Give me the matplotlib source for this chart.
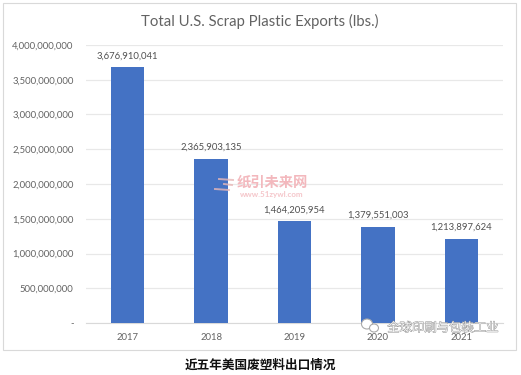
import matplotlib
matplotlib.use("Agg")
import matplotlib.pyplot as plt
import matplotlib.patheffects as pe
from matplotlib.lines import Line2D
from matplotlib.patches import Rectangle, Ellipse

# DATA
years = ["2017", "2018", "2019", "2020", "2021"]
exports = [3676910041, 2365903135, 1464205954, 1379551003, 1213897624]
y_ticks = [0, 500000000, 1000000000, 1500000000, 2000000000, 2500000000, 3000000000, 3500000000, 4000000000]
y_labels = ["-", "500,000,000", "1,000,000,000", "1,500,000,000", "2,000,000,000",
            "2,500,000,000", "3,000,000,000", "3,500,000,000", "4,000,000,000"]
title = "Total U.S. Scrap Plastic Exports (lbs.)"
caption = "近五年美国废塑料出口情况"
mark_cn = "纸引未来网"
mark_url = "www.51zywl.com"
mark_wechat = "全球印刷与包装工业"

W, H = 521, 375
plt.rcParams["font.family"] = ["Lato", "DejaVu Sans"]
cjk = ["Noto Sans CJK SC", "DejaVu Sans"]
grey = "#636363"

fig = plt.figure(figsize=(W / 100, H / 100), dpi=100)

# chart border
fig.add_artist(Rectangle((3 / W, 1 - 350 / H), 513 / W, 347 / H, transform=fig.transFigure,
                         facecolor="white", edgecolor="#d9d9d9", linewidth=0.8, zorder=-1))

ax = fig.add_axes([86 / W, 1 - 323 / H, 417 / W, 278 / H], zorder=2)
ax.patch.set_alpha(0)
xs = range(len(years))
ax.bar(xs, exports, width=0.4, color="#4472c4", zorder=3)
ax.set_xlim(-0.5, 4.5)
ax.set_ylim(0, 4000000000)
ax.set_xticks(list(xs), labels=years)
ax.set_yticks(y_ticks, labels=y_labels)
ax.tick_params(length=0, labelsize=6.85, labelcolor=grey)
ax.tick_params(axis="x", pad=7.5)
ax.tick_params(axis="y", pad=9)
ax.grid(axis="y", color="#e8e8e8", linewidth=0.9, zorder=0)
for side in ["top", "right", "left"]:
    ax.spines[side].set_visible(False)
ax.spines["bottom"].set_color("#d9d9d9")

for x, v in zip(xs, exports):
    ax.annotate(f"{v:,}", (x, v), xytext=(0, 7), textcoords="offset pixels", ha="center", va="bottom",
                fontsize=6.85, color="#505050", zorder=4)

fig.text(260 / W, 1 - 21 / H, title, ha="center", va="center", fontsize=10.7, color=grey)
fig.text(260 / W, 1 - 365 / H, caption, ha="center", va="center", fontsize=9.1, fontweight="bold",
         color="#111111", family=cjk)

# watermarks
fig.text(272 / W, 1 - 183 / H, mark_cn, ha="center", va="center", fontsize=10.3, fontweight="bold",
         color="#f3b8bd", family=cjk, zorder=5)
fig.text(272 / W, 1 - 194 / H, mark_url, ha="center", va="center", fontsize=5.8, fontweight="bold",
         color="#f5c6ca", zorder=5)
for dy, x0, x1 in [(0, 219, 233), (5, 224, 232), (10, 215, 229)]:
    fig.add_artist(Line2D([x0 / W, x1 / W], [1 - (179 + dy) / H, 1 - (179 + dy + 1) / H], color="#e8b8b8",
                          linewidth=1.4, alpha=0.8, zorder=5))
fig.text(443 / W, 1 - 328 / H, mark_wechat, ha="center", va="center", fontsize=8.9, color="#f4f4f4",
         family=cjk, zorder=6,
         path_effects=[pe.withStroke(linewidth=0.6, foreground="#8f8f8f")])
fig.add_artist(Ellipse((367 / W, 1 - 324 / H), 11 / W, 10 / H, transform=fig.transFigure,
                       facecolor="white", edgecolor="#aaaaaa", linewidth=0.8, zorder=6))
fig.add_artist(Ellipse((374 / W, 1 - 328 / H), 9 / W, 8 / H, transform=fig.transFigure,
                       facecolor="white", edgecolor="#aaaaaa", linewidth=0.8, zorder=6))

fig.savefig("out.png", dpi=100)
